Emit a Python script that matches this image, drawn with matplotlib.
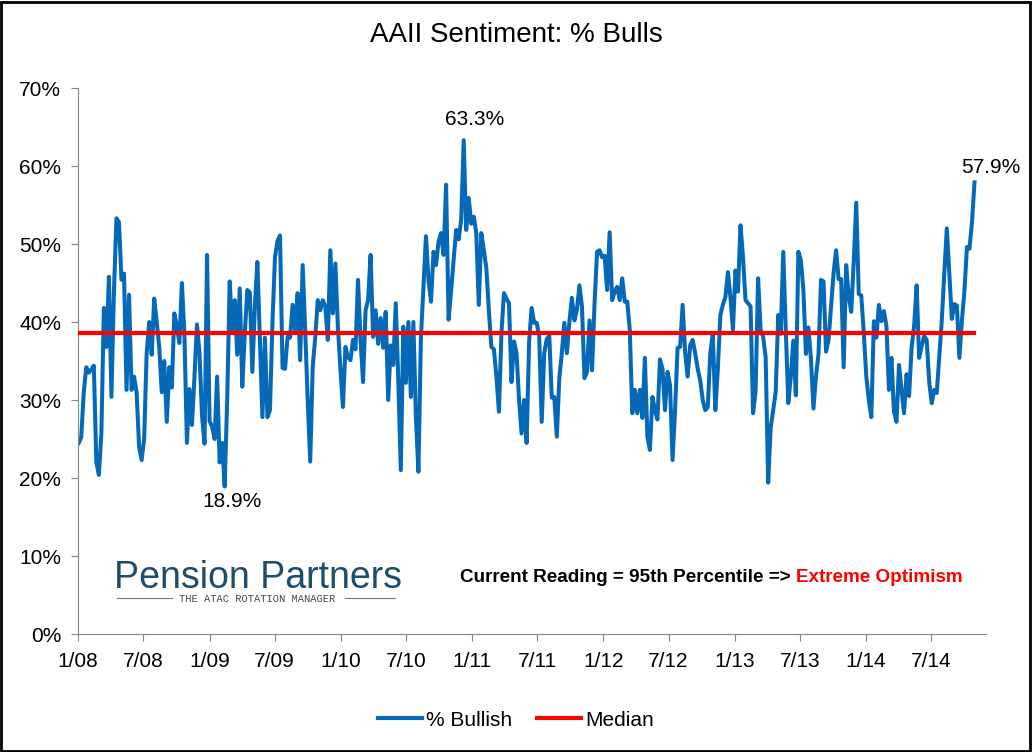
import numpy as np
import pandas as pd
import matplotlib
matplotlib.use("Agg")
import matplotlib.pyplot as plt
from matplotlib.patches import Rectangle
from matplotlib.lines import Line2D

plt.rcParams['font.family'] = ['Liberation Sans', 'DejaVu Sans']

# weekly AAII % bullish readings (Jan 2008 .. Oct 2014)
bullish_1 = [24.5, 25.2, 31.0, 34.2, 33.5, 33.9, 34.4, 22.0, 20.4, 25.7,
             41.8, 36.8, 45.8, 30.4, 44.0, 53.3, 52.8, 45.4, 46.2, 31.3,
             43.5, 31.3, 33.0, 31.0, 24.0, 22.3, 25.0, 36.0, 40.0, 35.8,
             43.0, 40.0, 36.8, 31.0, 35.0, 27.2, 34.2, 31.6, 41.1, 39.5,
             37.3, 45.0, 38.5, 24.5, 31.4, 26.8, 33.0, 39.7, 36.0, 28.0,
             24.4, 48.6, 27.3, 26.6, 25.0, 33.0, 22.0, 24.5, 18.9, 30.0,
             45.2]
bullish_2 = [39.0, 42.8, 35.8, 44.3, 31.7, 38.5, 44.1, 43.8, 33.6, 42.0,
             47.7, 37.7, 27.8, 38.0, 27.8, 28.7, 40.0, 48.3, 50.4, 51.1,
             34.1, 34.0, 38.1, 38.0, 42.2, 39.0, 43.7, 35.1, 47.3, 39.0,
             30.0, 22.1, 34.3, 38.0, 42.8, 41.5, 42.8, 42.0, 37.7, 49.2,
             41.1, 47.5, 39.4, 34.0, 29.1, 36.8, 35.5, 35.1, 37.7, 36.5,
             45.4, 37.7, 32.3, 41.5, 42.8, 48.6, 38.1, 41.5, 37.2, 40.5]
bullish_3 = [36.7, 41.3, 30.0, 37.0, 34.5, 42.4, 32.6, 21.0, 39.4, 32.2,
             40.0, 30.4, 40.0, 27.8, 20.8, 38.0, 44.5, 51.0, 45.4, 42.6,
             49.0, 47.3, 50.3, 51.4, 48.6, 57.6, 40.3, 44.0, 48.0, 51.8,
             50.6, 53.1, 63.3, 51.8, 55.9, 52.6, 53.5, 51.4, 42.2, 51.4,
             49.2, 46.9, 41.5, 36.8, 36.5, 33.0, 28.5, 38.6, 43.7, 43.0,
             42.4, 32.3, 37.5, 36.0, 30.0, 25.7, 30.0, 24.5, 37.5]
bullish_4 = [41.8, 39.9, 39.9, 38.2, 27.2, 36.0, 37.8, 38.3, 30.3, 30.4,
             25.3, 32.8, 36.0, 39.9, 36.0, 40.0, 43.1, 40.2, 41.6, 44.7,
             42.0, 32.8, 33.6, 40.2, 33.8, 42.4, 49.0, 49.2, 48.3, 48.5,
             44.1, 51.5, 42.8, 43.9, 44.5, 42.8, 45.6, 42.6, 42.6, 39.0,
             28.3, 31.3, 28.3, 31.3, 27.7, 35.4, 25.3, 23.6, 30.4, 28.7,
             27.5, 35.2, 34.0, 28.7, 33.6, 31.9, 22.3, 28.7, 36.7, 36.8]
bullish_5 = [42.2, 36.1, 33.0, 37.0, 37.7, 36.0, 34.0, 32.5, 30.0, 28.7,
             29.1, 36.0, 38.5, 28.7, 34.0, 40.9, 42.2, 43.2, 46.4, 43.2,
             39.0, 46.6, 43.9, 52.4, 48.3, 42.8, 42.4, 42.0, 28.3, 31.1,
             45.6, 39.0, 38.1, 35.5, 19.4, 26.5, 28.7, 31.1, 40.9, 38.5,
             49.0, 39.0, 29.6, 33.0, 37.6, 30.6, 49.0, 47.9, 44.1, 35.9,
             39.3, 35.3, 28.9, 33.0, 35.9, 45.4, 45.2, 36.2, 37.7, 42.0]
bullish_6 = [46.3, 49.2, 45.5, 45.5, 34.2, 47.3, 43.3, 41.3, 47.7, 55.3,
             43.6, 43.4, 38.6, 33.0, 30.0, 27.8, 40.1, 38.0, 42.2, 40.1,
             41.4, 39.5, 31.3, 35.4, 28.5, 27.2, 34.5, 31.3, 28.3, 33.3,
             30.5, 36.7, 39.5, 44.7, 35.4, 36.9, 38.2, 37.7, 32.3, 29.6,
             31.3, 30.9, 35.5, 40.2, 46.3, 52.0, 46.3, 40.4, 42.3, 42.1,
             35.4, 40.2, 44.0, 49.6, 49.4, 52.8, 57.9]

median_pct = 38.6
tick_labels = ["1/08", "7/08", "1/09", "7/09", "1/10", "7/10", "1/11",
               "7/11", "1/12", "7/12", "1/13", "7/13", "1/14", "7/14"]

bullish = np.array(bullish_1 + bullish_2 + bullish_3 + bullish_4 + bullish_5 + bullish_6)
dates = pd.date_range("2008-01-03", periods=len(bullish), freq="7D")
ticks = pd.date_range("2008-01-01", periods=len(tick_labels), freq="6MS")

fig = plt.figure(figsize=(10.32, 7.52), dpi=100)
ax = fig.add_axes([78/1032, 1-634/752, (986-78)/1032, (634-88)/752])

ax.plot(dates, bullish, color="#0569b8", lw=2.9, solid_joinstyle="round", zorder=2)
ax.plot([dates[0], dates[-1]], [median_pct, median_pct], color="#ff0000", lw=3, zorder=3)

ax.set_xlim(pd.Timestamp("2008-01-01"), pd.Timestamp("2014-12-01"))
ax.set_ylim(0, 70)
ax.set_yticks(range(0, 71, 10))
ax.set_yticklabels([f"{v}%" for v in range(0, 71, 10)], fontsize=15)
ax.set_xticks(ticks)
ax.set_xticklabels(tick_labels, fontsize=15)
for s in ["top", "right"]:
    ax.spines[s].set_visible(False)
for s in ["left", "bottom"]:
    ax.spines[s].set_color("#868686")
ax.tick_params(axis="both", colors="#868686", labelcolor="black", length=5)
ax.tick_params(axis="x", pad=8)
ax.tick_params(axis="y", pad=7)

# labels for the extremes
i_max = int(np.argmax(bullish))
i_min = int(np.argmin(bullish))
ax.annotate(f"{bullish[i_max]:.1f}%", (dates[i_max], bullish[i_max]), xytext=(8, 8),
            textcoords="offset points", ha="center", va="bottom", fontsize=15)
ax.annotate(f"{bullish[i_min]:.1f}%", (dates[i_min], bullish[i_min]), xytext=(5, -4),
            textcoords="offset points", ha="center", va="top", fontsize=15)
ax.annotate(f"{bullish[-1]:.1f}%", (dates[-1], bullish[-1]), xytext=(12, 4),
            textcoords="offset points", ha="center", va="bottom", fontsize=15,
            annotation_clip=False)

fig.text(0.5, 1-35/752, "AAII Sentiment: % Bulls", ha="center", va="center", fontsize=20)

t1 = fig.text(460/1032, 1-578/752, "Current Reading = 95th Percentile => ",
              ha="left", va="center", fontsize=13.6, fontweight="bold")
ax.annotate("Extreme Optimism", xy=(1, 0.5), xycoords=t1, ha="left", va="center",
            fontsize=13.6, fontweight="bold", color="#ff0000")

# logo
fig.text(114/1032, 1-588/752, "Pension Partners", ha="left", va="baseline",
         fontsize=27, color="#1f4d69")
fig.text(257/1032, 1-599/752, "THE ATAC ROTATION MANAGER", ha="center", va="center",
         fontsize=7.5, family="Liberation Mono", color="#444444")
fig.add_artist(Line2D([117/1032, 172/1032], [1-598/752]*2, color="#777777", lw=0.8))
fig.add_artist(Line2D([345/1032, 395/1032], [1-598/752]*2, color="#777777", lw=0.8))

handles = [Line2D([], [], color="#0569b8", lw=3), Line2D([], [], color="#ff0000", lw=3)]
fig.legend(handles, ["% Bullish", "Median"], loc="center", bbox_to_anchor=(0.5, 1-720/752),
           ncol=2, frameon=False, fontsize=15, handlelength=2.1, columnspacing=1.2,
           handletextpad=0.2)

fig.add_artist(Rectangle((0.001, 0.001), 0.997, 0.997, transform=fig.transFigure,
                         fill=False, edgecolor="black", lw=2))

fig.savefig("out.png", dpi=100)
